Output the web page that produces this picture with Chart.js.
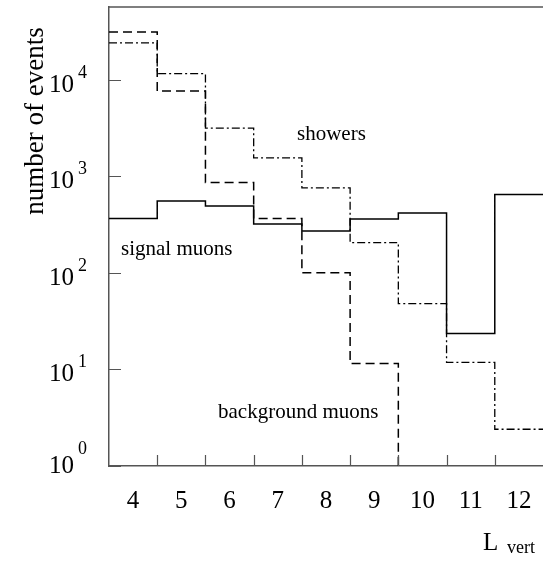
<!DOCTYPE html>
<html>
<head>
<meta charset="utf-8">
<script src="https://cdn.jsdelivr.net/npm/chart.js@4"></script>
<style>
  body { margin: 0; background: #fff; }
  #wrap { width: 543px; height: 563px; }
</style>
</head>
<body>
<div id="wrap"><canvas id="canvas"></canvas></div>
<script>
// bins of L_vert (centres), one value per bin
const binCenters = [4, 5, 6, 7, 8, 9, 10, 11, 12];
const signalMuons = [365, 555, 490, 320, 270, 360, 415, 23.5, 645];
const backgroundMuons = [31000, 7600, 860, 365, 100, 11.5, 0, 0, 0];
const showers = [24000, 11500, 3150, 1550, 755, 205, 48, 11.8, 2.4];

const decades = [0, 1, 2, 3, 4];
const binEdgeTicks = [4.5, 5.5, 6.5, 7.5, 8.5, 9.5, 10.5, 11.5];

const serif = "'Liberation Serif', 'Times New Roman', serif";
const axisColor = '#555';
const yMin = 1;

// turn bin values into step points at the left edge of each bin;
// an empty bin can't sit on a log axis, so it drops below the axis and ends the line
function histPoints(values) {
  const pts = [];
  for (let i = 0; i < values.length; i++) {
    pts.push({ x: binCenters[i] - 0.5, y: values[i] > 0 ? values[i] : yMin / 10 });
    if (values[i] === 0) return pts;
  }
  pts.push({ x: binCenters[binCenters.length - 1] + 0.5, y: values[values.length - 1] });
  return pts;
}

const extras = {
  id: 'extras',
  afterDraw(chart) {
    const ctx = chart.ctx;
    const area = chart.chartArea;
    const xs = chart.scales.x;
    const ys = chart.scales.y;
    ctx.save();

    // frame top
    ctx.strokeStyle = axisColor;
    ctx.lineWidth = 1.5;
    ctx.beginPath();
    ctx.moveTo(area.left, area.top);
    ctx.lineTo(area.right + 2, area.top);
    ctx.stroke();

    // inward tick marks
    ctx.lineWidth = 1.2;
    ctx.beginPath();
    decades.forEach(p => {
      const y = Math.round(ys.getPixelForValue(Math.pow(10, p))) + 0.5;
      ctx.moveTo(area.left, y);
      ctx.lineTo(area.left + 12, y);
    });
    binEdgeTicks.forEach(v => {
      const x = Math.round(xs.getPixelForValue(v)) + 0.5;
      ctx.moveTo(x, area.bottom);
      ctx.lineTo(x, area.bottom - 11);
    });
    ctx.stroke();

    // y labels 10^n
    ctx.fillStyle = '#000';
    ctx.textBaseline = 'alphabetic';
    decades.forEach(p => {
      const y = ys.getPixelForValue(Math.pow(10, p));
      const base = p === 0 ? y + 7 : y + 12;
      ctx.font = '25px ' + serif;
      ctx.textAlign = 'right';
      ctx.fillText('10', 74, base);
      ctx.font = '18px ' + serif;
      ctx.textAlign = 'left';
      ctx.fillText(String(p), 78, base - (p === 0 ? 19 : 14));
    });

    // axis titles
    ctx.font = '25px ' + serif;
    ctx.textAlign = 'left';
    ctx.fillText('L', 483, 550);
    ctx.font = '18px ' + serif;
    ctx.fillText('vert', 507, 553);

    ctx.save();
    ctx.translate(43, 121);
    ctx.rotate(-Math.PI / 2);
    ctx.font = '27px ' + serif;
    ctx.textAlign = 'center';
    ctx.fillText('number of events', 0, 0);
    ctx.restore();

    // curve labels
    ctx.font = '21px ' + serif;
    ctx.textAlign = 'left';
    ctx.fillText('showers', 297, 140);
    ctx.fillText('signal muons', 121, 255);
    ctx.fillText('background muons', 218, 418);

    ctx.restore();
  }
};

new Chart(document.getElementById('canvas'), {
  type: 'line',
  data: {
    datasets: [
      {
        label: 'signal muons',
        data: histPoints(signalMuons),
        borderColor: '#000',
        borderWidth: 1.5,
        stepped: 'before',
        pointRadius: 0
      },
      {
        label: 'background muons',
        data: histPoints(backgroundMuons),
        borderColor: '#000',
        borderWidth: 1.5,
        borderDash: [9, 5],
        stepped: 'before',
        pointRadius: 0
      },
      {
        label: 'showers',
        data: histPoints(showers),
        borderColor: '#000',
        borderWidth: 1.3,
        borderDash: [8, 3, 2, 3],
        stepped: 'before',
        pointRadius: 0
      }
    ]
  },
  options: {
    responsive: true,
    maintainAspectRatio: false,
    animation: false,
    layout: { padding: { top: 7, right: 0, left: 0, bottom: 0 } },
    plugins: {
      legend: { display: false },
      tooltip: { enabled: false }
    },
    scales: {
      x: {
        type: 'linear',
        min: 3.5,
        max: 12.5,
        afterBuildTicks: (scale) => {
          scale.ticks = binCenters.map(v => ({ value: v }));
        },
        afterFit: (scale) => {
          scale.height = 97;
          // let the last bin run to the canvas edge
          scale.paddingLeft = 0;
          scale.paddingRight = 0;
        },
        grid: { display: false, drawTicks: false },
        border: { display: true, color: axisColor, width: 1.5 },
        ticks: {
          autoSkip: false,
          maxRotation: 0,
          padding: 20,
          color: '#000',
          font: { family: serif, size: 25 }
        }
      },
      y: {
        type: 'logarithmic',
        min: yMin,
        max: 56400,
        afterFit: (scale) => { scale.width = 109; },
        grid: { display: false, drawTicks: false },
        border: { display: true, color: axisColor, width: 1.5 },
        ticks: { display: false }
      }
    }
  },
  plugins: [extras]
});
</script>
</body>
</html>
